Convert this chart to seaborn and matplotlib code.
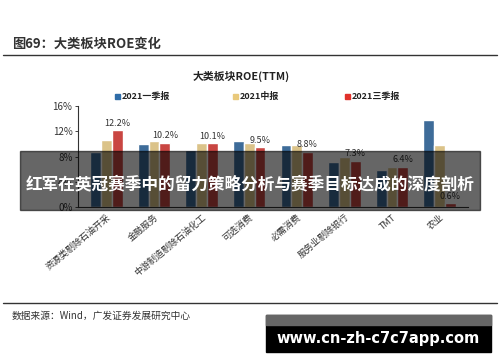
import numpy as np
import pandas as pd
import matplotlib
matplotlib.use("Agg")
import matplotlib.pyplot as plt
import seaborn as sns
from matplotlib.patches import Rectangle

# data
sectors = ["资源类剔除石油开采", "金融服务", "中游制造剔除石油化工", "可选消费",
           "必需消费", "服务业剔除银行", "TMT", "农业"]
series = ["2021一季报", "2021中报", "2021三季报"]
q1 = [8.7, 10.0, 9.1, 10.4, 9.9, 7.1, 5.8, 13.8]
h1 = [10.7, 10.4, 10.2, 10.2, 9.8, 7.9, 6.3, 9.9]
q3 = [12.2, 10.2, 10.1, 9.5, 8.8, 7.3, 6.4, 0.6]
colors = ["#2F6CA8", "#E9C97B", "#E0312B"]
yticks = [0, 4, 8, 12, 16]

sns.set_theme(style="white")
plt.rcParams["font.family"] = ["Noto Sans CJK SC", "DejaVu Sans"]

df = pd.DataFrame({
    "sector": sectors * 3,
    "series": [series[0]] * 8 + [series[1]] * 8 + [series[2]] * 8,
    "roe": q1 + h1 + q3,
})

fig = plt.figure(figsize=(5, 3.62), dpi=100)
ax = fig.add_axes([0.156, 0.428, 0.78, 0.279])

sns.barplot(data=df, x="sector", y="roe", hue="series", palette=colors,
            width=0.68, gap=0.0, ax=ax, legend=False)

ax.set_ylim(0, 16)
ax.set_yticks(yticks)
ax.set_yticklabels([f"{v}%" for v in yticks], fontsize=7, color="#333333")
ax.set_xlabel("")
ax.set_ylabel("")
ax.set_xlim(-0.6, 7.6)
ax.set_xticks(range(len(sectors)))
ax.set_xticklabels(sectors, rotation=40, ha="right", rotation_mode="anchor",
                   fontsize=6.5, color="#333333")
ax.tick_params(axis="x", length=0, pad=4)
ax.tick_params(axis="y", length=2, width=0.6, direction="out", left=True, pad=2)
for s in ["top", "right"]:
    ax.spines[s].set_visible(False)
for s in ["left", "bottom"]:
    ax.spines[s].set_color("#333333")
    ax.spines[s].set_linewidth(0.8)

# value labels above third-quarter bars
red_bars = ax.containers[2]
for rect, v in zip(red_bars, q3):
    ax.text(rect.get_x() + rect.get_width() / 2, v + 0.4, f"{v}%",
            ha="center", va="bottom", fontsize=6.5, color="#333333")

# legend (manual)
leg_x = [0.23, 0.465, 0.69]
for x, lab, c in zip(leg_x, series, colors):
    fig.patches.append(Rectangle((x, 0.727), 0.01, 0.014, color=c,
                                 transform=fig.transFigure, figure=fig))
    fig.text(x + 0.014, 0.734, lab, fontsize=6.5, fontweight="bold",
             va="center", ha="left", color="#222222")

# titles and rules
fig.text(0.024, 0.88, "图69：大类板块ROE变化", fontsize=9.5, fontweight="bold",
         color="#333333", va="center")
fig.add_artist(plt.Line2D([0.006, 0.994], [0.848, 0.848], color="#333333", lw=1.0,
                          transform=fig.transFigure))
fig.text(0.482, 0.79, "大类板块ROE(TTM)", fontsize=7.8, fontweight="bold",
         color="#222222", ha="center", va="center")
fig.add_artist(plt.Line2D([0.006, 0.994], [0.163, 0.163], color="#333333", lw=1.0,
                          transform=fig.transFigure))
fig.text(0.024, 0.128, "数据来源：Wind，广发证券发展研究中心", fontsize=7,
         color="#333333", va="center")

# overlay banner
fig.patches.append(Rectangle((0.04, 0.42), 0.92, 0.163, color="black", alpha=0.6,
                             transform=fig.transFigure, figure=fig, zorder=5))
fig.text(0.5, 0.49, "红军在英冠赛季中的留力策略分析与赛季目标达成的深度剖析",
         fontsize=12, fontweight="bold", color="white", ha="center",
         va="center", zorder=6)

# watermark box
fig.patches.append(Rectangle((0.532, 0.028), 0.45, 0.102, color="black",
                             transform=fig.transFigure, figure=fig, zorder=5))
fig.patches.append(Rectangle((0.532, 0.102), 0.45, 0.028, color="#666666",
                             transform=fig.transFigure, figure=fig, zorder=6))
fig.text(0.757, 0.066, "www.cn-zh-c7c7app.com", fontsize=10.5, fontweight="bold",
         color="white", ha="center", va="center", zorder=7,
         family=["DejaVu Sans"])

fig.savefig("out.png", dpi=100)
